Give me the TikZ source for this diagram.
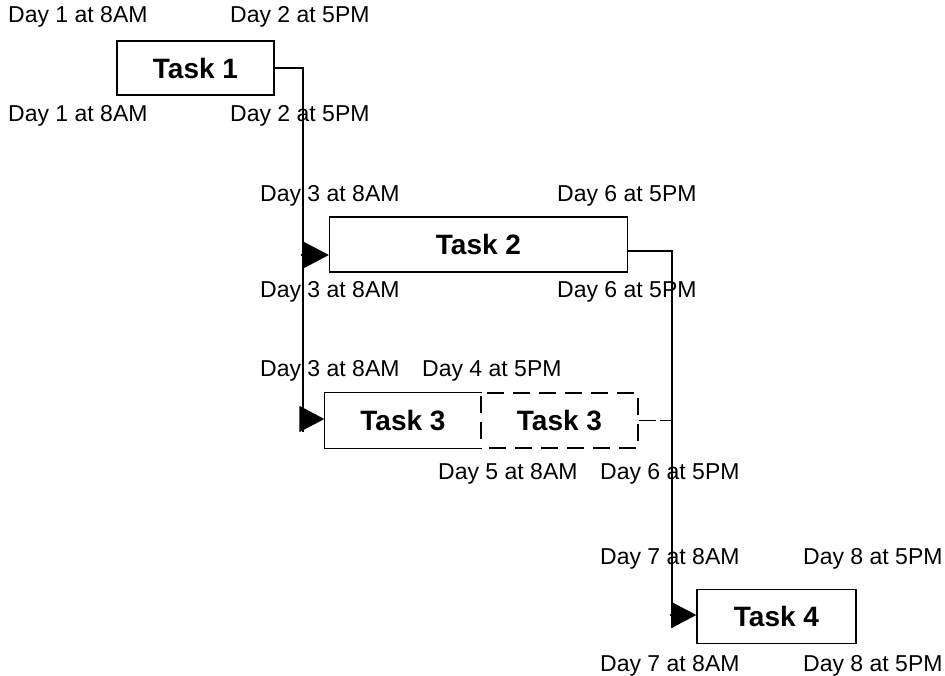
\documentclass[tikz,border=0pt]{standalone}
\usepackage{fontspec}
\setmainfont{Liberation Sans}
\usetikzlibrary{arrows.meta}
\begin{document}
\begin{tikzpicture}[x=1pt,y=-1pt,
  lbl/.style={anchor=base west,inner sep=0pt,font=\fontsize{23}{27}\selectfont},
  task/.style={draw,line width=1.3pt,minimum height=54pt,inner sep=0pt,font=\fontsize{28}{32}\selectfont\bfseries},
  dashbox/.style={draw,line width=1.3pt,dash pattern=on 17pt off 9pt,dash phase=-8pt,minimum height=55pt,inner sep=0pt,font=\fontsize{28}{32}\selectfont\bfseries},
  conn/.style={line width=1.3pt},
  arr/.style={line width=1.3pt,-{Triangle[length=25pt,width=26pt]}}]
\useasboundingbox (0,0) rectangle (945,675);
% labels
\node[lbl] (l1a) at (8,22) {Day 1 at 8AM};
\node[lbl] (l1b) at (230,22) {Day 2 at 5PM};
\node[lbl] (l1c) at (8,121) {Day 1 at 8AM};
\node[lbl] (l1d) at (230,121) {Day 2 at 5PM};
\node[lbl] (l2a) at (260,201) {Day 3 at 8AM};
\node[lbl] (l2b) at (557,201) {Day 6 at 5PM};
\node[lbl] (l2c) at (260,297) {Day 3 at 8AM};
\node[lbl] (l2d) at (557,297) {Day 6 at 5PM};
\node[lbl] (l3a) at (260,376) {Day 3 at 8AM};
\node[lbl] (l3b) at (422,376) {Day 4 at 5PM};
\node[lbl] (l3c) at (438,479) {Day 5 at 8AM};
\node[lbl] (l3d) at (600,479) {Day 6 at 5PM};
\node[lbl] (l4a) at (600,564) {Day 7 at 8AM};
\node[lbl] (l4b) at (803,564) {Day 8 at 5PM};
\node[lbl] (l4c) at (600,671) {Day 7 at 8AM};
\node[lbl] (l4d) at (803,671) {Day 8 at 5PM};
% tasks
\node[task,minimum width=157pt] (t1) at (195.5,68) {Task 1};
\node[task,minimum width=298pt,minimum height=55pt] (t2) at (478.5,244.5) {Task 2};
\node[task,draw=none,minimum width=156pt,minimum height=55pt] (t3a) at (403,420.5) {Task 3};
\draw[conn] (t3a.north east) -- (t3a.north west) -- (t3a.south west) -- (t3a.south east);
\node[dashbox,minimum width=157pt] (t3b) at (559.5,420.5) {Task 3};
\node[task,minimum width=159pt] (t4) at (776.5,616.5) {Task 4};
% connectors
\coordinate (j1) at (303,68);
\coordinate (j1b) at (303,432);
\draw[conn] (t1.east) -- (j1) -- (j1b);
\coordinate (a2) at (301,255);
\draw[arr] (a2) -- (a2 -| t2.west);
\coordinate (a3) at (301,419);
\draw[arr] (a3) -- (a3 -| t3a.west);
\coordinate (j2) at (672,251);
\coordinate (j2b) at (672,628);
\draw[conn] ([yshift=-6.5pt]t2.east) -- (j2) -- (j2b);
\draw[conn,dash pattern=on 17pt off 4pt] (t3b.east) -- (t3b.east -| j2);
\coordinate (a4) at (670,615);
\draw[arr] (a4) -- (a4 -| t4.west);
\end{tikzpicture}
\end{document}
